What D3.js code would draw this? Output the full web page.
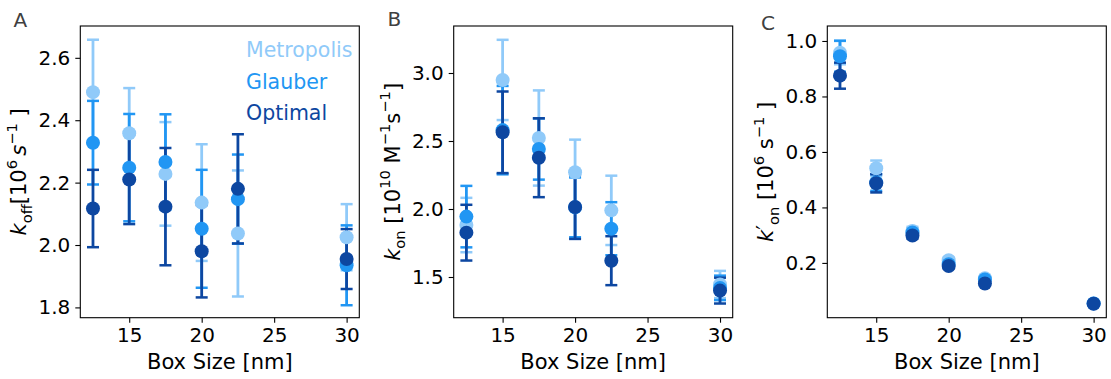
<!DOCTYPE html>
<html>
<head>
<meta charset="utf-8">
<script src="https://cdn.jsdelivr.net/npm/d3@7/dist/d3.min.js"></script>
<style>
  html, body { margin: 0; padding: 0; background: #fff; }
  svg { display: block; font-family: "DejaVu Sans", sans-serif; }
  .tick text { font-size: 20px; fill: #000; }
</style>
</head>
<body>
<svg id="fig" width="1111" height="379"></svg>
<script>
// Box sizes (nm) shared by all three panels
const boxSizes = [12.5, 15, 17.5, 20, 22.5, 30];
const methods = ["Metropolis", "Glauber", "Optimal"];
const methodColors = ["#90CAF9", "#2196F3", "#0D47A1"];
const xTicks = [15, 20, 25, 30];

// Panel A: k_off [10^6 s^-1]
const koffMetropolis    = [2.490, 2.358, 2.228, 2.136, 2.037, 2.025];
const koffMetropolisErr = [0.168, 0.145, 0.166, 0.187, 0.202, 0.106];
const koffGlauber       = [2.328, 2.248, 2.266, 2.052, 2.147, 1.935];
const koffGlauberErr    = [0.134, 0.172, 0.153, 0.189, 0.143, 0.128];
const koffOptimal       = [2.117, 2.210, 2.123, 1.980, 2.180, 1.955];
const koffOptimalErr    = [0.124, 0.143, 0.188, 0.148, 0.175, 0.096];
const koffTicks = [1.8, 2.0, 2.2, 2.4, 2.6];

// Panel B: k_on [10^10 M^-1 s^-1]
const konMetropolis    = [1.882, 2.949, 2.522, 2.270, 1.990, 1.445];
const konMetropolisErr = [0.200, 0.295, 0.350, 0.240, 0.255, 0.100];
const konGlauber       = [1.944, 2.580, 2.441, 2.012, 1.855, 1.420];
const konGlauberErr    = [0.226, 0.325, 0.225, 0.220, 0.195, 0.090];
const konOptimal       = [1.826, 2.564, 2.377, 2.015, 1.620, 1.400];
const konOptimalErr    = [0.205, 0.300, 0.290, 0.235, 0.180, 0.095];
const konTicks = [1.5, 2.0, 2.5, 3.0];

// Panel C: k'_on [10^6 s^-1]
const konPrimeMetropolis    = [0.958, 0.541, 0.315, 0.210, 0.145, 0.054];
const konPrimeMetropolisErr = [0.042, 0.028, 0.015, 0.010, 0.008, 0.004];
const konPrimeGlauber       = [0.945, 0.490, 0.310, 0.195, 0.140, 0.054];
const konPrimeGlauberErr    = [0.056, 0.030, 0.013, 0.009, 0.007, 0.004];
const konPrimeOptimal       = [0.875, 0.487, 0.299, 0.189, 0.126, 0.053];
const konPrimeOptimalErr    = [0.047, 0.033, 0.012, 0.008, 0.006, 0.003];
const konPrimeTicks = [0.2, 0.4, 0.6, 0.8, 1.0];

const svg = d3.select("#fig");
const plotW = 279, plotTop = 26, plotBottom = 317.7;

const panels = [
  {
    letter: "A", letterPos: [13.5, 26.5], left: 80.3,
    domain: [1.767, 2.702], ticks: koffTicks, fmt: d3.format(".1f"),
    values: [koffMetropolis, koffGlauber, koffOptimal],
    errors: [koffMetropolisErr, koffGlauberErr, koffOptimalErr],
    legend: true,
    label: [["k", "i"], ["off", "sub"], ["[10", "n"], ["6", "sup"], ["\u2009", "n"], ["s", "i"], ["\u22121", "sup"], [" ]", "n"]]
  },
  {
    letter: "B", letterPos: [387.5, 25.5], left: 453.7,
    domain: [1.2007, 3.3456], ticks: konTicks, fmt: d3.format(".1f"),
    values: [konMetropolis, konGlauber, konOptimal],
    errors: [konMetropolisErr, konGlauberErr, konOptimalErr],
    legend: false,
    label: [["k", "i"], ["on", "sub"], [" [10", "n"], ["10", "sup"], [" M", "n"], ["\u22121", "sup"], ["s", "n"], ["\u22121", "sup"], ["]", "n"]]
  },
  {
    letter: "C", letterPos: [761, 29.5], left: 827.3,
    domain: [0.0025, 1.054], ticks: konPrimeTicks, fmt: d3.format(".1f"),
    values: [konPrimeMetropolis, konPrimeGlauber, konPrimeOptimal],
    errors: [konPrimeMetropolisErr, konPrimeGlauberErr, konPrimeOptimalErr],
    legend: false,
    label: [["k", "i"], ["\u2032", "prime"], ["on", "sub"], [" [10", "n"], ["6", "sup"], [" s", "n"], ["\u22121", "sup"], [" ]", "n"]]
  }
];

// Writes a label made of normal / italic / sub / superscript pieces
function richText(textSel, parts, size) {
  let shift = 0;
  parts.forEach(([t, kind]) => {
    let target = 0, fs = size, style = "normal";
    if (kind === "i") style = "italic";
    if (kind === "sub") { target = 0.27 * size; fs = 0.7 * size; }
    if (kind === "sup") { target = -0.45 * size; fs = 0.7 * size; }
    if (kind === "prime") { target = -0.05 * size; fs = size; }
    textSel.append("tspan")
      .attr("dy", target - shift)
      .style("font-size", fs + "px")
      .style("font-style", style)
      .text(t);
    shift = target;
  });
}

panels.forEach(p => {
  const x = d3.scaleLinear().domain([11.625, 30.875]).range([p.left, p.left + plotW]);
  const y = d3.scaleLinear().domain(p.domain).range([plotBottom, plotTop]);

  const g = svg.append("g");

  // error bars for every series first, markers on top afterwards
  methods.forEach((m, si) => {
    const vals = p.values[si], errs = p.errors[si], col = methodColors[si];
    const eb = g.append("g").attr("stroke", col).attr("stroke-width", 2.8).attr("fill", "none");
    boxSizes.forEach((b, i) => {
      const lo = y(vals[i] - errs[i]), hi = y(vals[i] + errs[i]), cx = x(b);
      eb.append("line").attr("x1", cx).attr("x2", cx).attr("y1", lo).attr("y2", hi);
      eb.append("line").attr("x1", cx - 6).attr("x2", cx + 6).attr("y1", lo).attr("y2", lo).attr("stroke-width", 2.5);
      eb.append("line").attr("x1", cx - 6).attr("x2", cx + 6).attr("y1", hi).attr("y2", hi).attr("stroke-width", 2.5);
    });
  });
  methods.forEach((m, si) => {
    g.append("g").selectAll("circle")
      .data(boxSizes.map((b, i) => [b, p.values[si][i]]))
      .join("circle")
      .attr("cx", d => x(d[0]))
      .attr("cy", d => y(d[1]))
      .attr("r", 7)
      .attr("fill", methodColors[si]);
  });

  // axes frame
  g.append("rect")
    .attr("x", p.left).attr("y", plotTop)
    .attr("width", plotW).attr("height", plotBottom - plotTop)
    .attr("fill", "none").attr("stroke", "#000").attr("stroke-width", 1.1);

  const xAxis = g.append("g")
    .attr("transform", `translate(0,${plotBottom})`)
    .call(d3.axisBottom(x).tickValues(xTicks).tickSize(5).tickPadding(5).tickFormat(d3.format("d")));
  const yAxis = g.append("g")
    .attr("transform", `translate(${p.left},0)`)
    .call(d3.axisLeft(y).tickValues(p.ticks).tickSize(5).tickPadding(5).tickFormat(p.fmt));
  [xAxis, yAxis].forEach(a => {
    a.select(".domain").remove();
    a.selectAll(".tick line").attr("stroke", "#000").attr("stroke-width", 1.1);
    a.selectAll(".tick text").attr("font-family", "DejaVu Sans").style("font-size", "20px");
  });

  // x axis title
  g.append("text")
    .attr("x", p.left + plotW / 2).attr("y", 368.5)
    .attr("text-anchor", "middle")
    .style("font-size", "21px")
    .text("Box Size [nm]");

  // y axis title
  const yl = g.append("text")
    .attr("transform", `translate(${p.left - 54},${(plotTop + plotBottom) / 2}) rotate(-90)`)
    .attr("text-anchor", "middle")
    .style("font-size", "21px");
  richText(yl, p.label, 21);

  // panel letter
  g.append("text")
    .attr("x", p.letterPos[0]).attr("y", p.letterPos[1])
    .style("font-size", "20px").attr("fill", "#404040")
    .text(p.letter);

  // legend: coloured labels only
  if (p.legend) {
    methods.forEach((m, si) => {
      g.append("text")
        .attr("x", p.left + 165.7).attr("y", 57.3 + si * 31.2)
        .style("font-size", "20.5px")
        .attr("fill", methodColors[si])
        .text(m);
    });
  }
});
</script>
</body>
</html>
